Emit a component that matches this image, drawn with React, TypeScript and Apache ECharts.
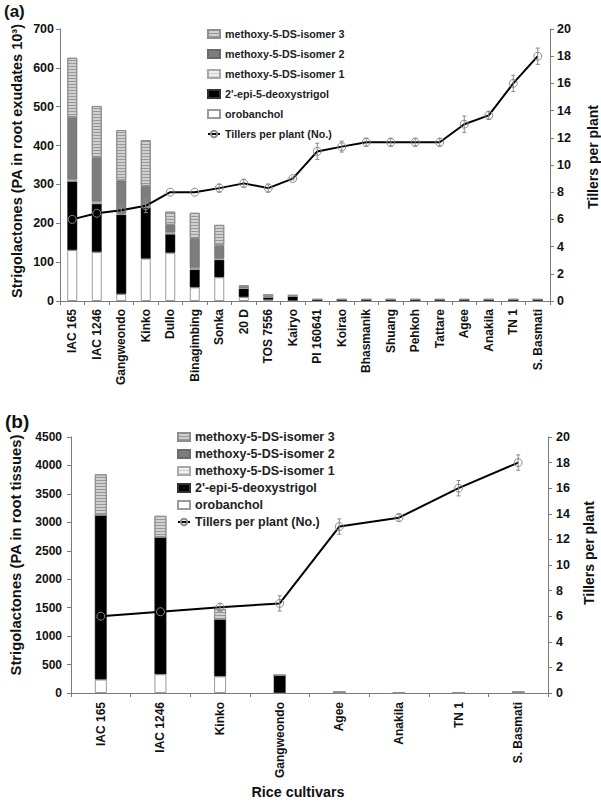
import React, { useEffect, useRef } from "react";
import * as echarts from "echarts";

// ---------- Panel (a): root exudates ----------
const cultivarsA = [
  "IAC 165", "IAC 1246", "Gangweondo", "Kinko", "Dullo", "Binagimbing", "Sonka", "20 D",
  "TOS 7556", "Kairyo", "PI 160641", "Koirao", "Bhasmanik", "Shuang", "Pehkoh", "Tattare",
  "Agee", "Anakila", "TN 1", "S. Basmati",
];
const orobancholA = [131, 126, 18, 109, 124, 35, 61, 10, 3, 1, 0, 0, 0, 0, 0, 0, 0, 0, 0, 0];
const epiDeoxyA = [177, 124, 204, 132, 48, 46, 45, 22, 6, 11, 4, 4, 4, 4, 4, 4, 4, 4, 4, 4];
const isomer1A = [5, 6, 3, 4, 5, 4, 3, 1, 0, 0, 0, 0, 0, 0, 0, 0, 0, 0, 0, 0];
const isomer2A = [160, 114, 85, 51, 19, 77, 34, 3, 3, 2, 0, 0, 0, 0, 0, 0, 0, 0, 0, 0];
const isomer3A = [153, 132, 130, 118, 34, 65, 53, 5, 6, 1, 0, 0, 0, 0, 0, 0, 0, 0, 0, 0];
const tillersA = [6.0, 6.45, 6.67, 7.0, 8.0, 8.0, 8.3, 8.65, 8.3, 9.0, 11.0, 11.35, 11.67, 11.67, 11.67, 11.67, 13.0, 13.65, 16.0, 18.0];
const tillersErrA = [0, 0, 0.3, 0.5, 0, 0, 0.3, 0.3, 0.3, 0.1, 0.6, 0.4, 0.3, 0.3, 0.3, 0.3, 0.6, 0.3, 0.6, 0.6];
const leftTicksA = { min: 0, max: 700, interval: 100 };
const rightTicksA = { min: 0, max: 20, interval: 2 };

// ---------- Panel (b): root tissues ----------
const cultivarsB = ["IAC 165", "IAC 1246", "Kinko", "Gangweondo", "Agee", "Anakila", "TN 1", "S. Basmati"];
const orobancholB = [236, 329, 293, 0, 0, 0, 0, 0];
const epiDeoxyB = [2887, 2407, 1002, 311, 15, 5, 5, 15];
const isomer1B = [0, 0, 0, 0, 0, 0, 0, 0];
const isomer2B = [0, 0, 0, 0, 0, 0, 0, 0];
const isomer3B = [721, 379, 183, 0, 0, 0, 0, 0];
const tillersB = [6.0, 6.35, 6.7, 7.0, 13.0, 13.7, 16.0, 18.0];
const tillersErrB = [0, 0, 0.3, 0.6, 0.6, 0.3, 0.6, 0.6];
const leftTicksB = { min: 0, max: 4500, interval: 500 };
const rightTicksB = { min: 0, max: 20, interval: 2 };

const NAMES = {
  iso3: "methoxy-5-DS-isomer 3",
  iso2: "methoxy-5-DS-isomer 2",
  iso1: "methoxy-5-DS-isomer 1",
  epi: "2'-epi-5-deoxystrigol",
  oro: "orobanchol",
  till: "Tillers per plant (No.)",
};

const FONT = "'Liberation Sans', Arial, Helvetica, sans-serif";
const TXT = "#111";
const AXIS = "#7a7a7a";

const styles: Record<string, any> = {
  oro: { color: "#ffffff", borderColor: "#9a9a9a", borderWidth: 1 },
  epi: { color: "#000000", borderColor: "#333", borderWidth: 0.5 },
  iso1: {
    color: "#efefef", borderColor: "#a8a8a8", borderWidth: 1,
    decal: { symbol: "rect", symbolSize: 1, dashArrayX: [1, 0], dashArrayY: [1, 2], rotation: 0, color: "#cfcfcf" },
  },
  iso2: { color: "#7d7d7d", borderColor: "#6a6a6a", borderWidth: 0.5 },
  iso3: {
    color: "#d0d0d0", borderColor: "#8f8f8f", borderWidth: 1,
    decal: { symbol: "rect", symbolSize: 1, dashArrayX: [1, 0], dashArrayY: [1, 2], rotation: 0, color: "#989898" },
  },
};

function bars(key: string, data: number[], xi: number, yi: number, stack: string, w: number) {
  return {
    type: "bar",
    name: (NAMES as any)[key],
    xAxisIndex: xi,
    yAxisIndex: yi,
    stack,
    barWidth: w,
    data,
    itemStyle: styles[key],
    z: 2,
  };
}

function errorSeries(vals: number[], errs: number[], xi: number, yi: number) {
  return {
    type: "custom",
    xAxisIndex: xi,
    yAxisIndex: yi,
    z: 6,
    silent: true,
    data: vals.map((v, i) => [i, v - errs[i], v + errs[i]]).filter((_, i) => errs[i] > 0),
    encode: { x: 0, y: [1, 2] },
    renderItem: (_p: any, api: any) => {
      const lo = api.coord([api.value(0), api.value(1)]);
      const hi = api.coord([api.value(0), api.value(2)]);
      const w = 2;
      const st = { stroke: "#8a8a8a", lineWidth: 1 };
      return {
        type: "group",
        children: [
          { type: "line", shape: { x1: lo[0], y1: lo[1], x2: hi[0], y2: hi[1] }, style: st },
          { type: "line", shape: { x1: lo[0] - w, y1: lo[1], x2: lo[0] + w, y2: lo[1] }, style: st },
          { type: "line", shape: { x1: hi[0] - w, y1: hi[1], x2: hi[0] + w, y2: hi[1] }, style: st },
        ],
      };
    },
  };
}

function lineSeries(data: number[], xi: number, yi: number) {
  return {
    type: "line",
    name: NAMES.till,
    xAxisIndex: xi,
    yAxisIndex: yi,
    data,
    symbol: "circle",
    symbolSize: 8,
    lineStyle: { color: "#000", width: 2 },
    itemStyle: { color: "rgba(255,255,255,0)", borderColor: "#8a8a8a", borderWidth: 1 },
    z: 5,
  };
}

function catAxis(data: string[], gi: number, fs: number, margin: number) {
  return {
    type: "category",
    gridIndex: gi,
    data,
    boundaryGap: true,
    axisLine: { lineStyle: { color: AXIS, width: 1 } },
    axisTick: { show: true, length: 4, interval: 0, lineStyle: { color: AXIS } },
    axisLabel: {
      interval: 0, rotate: 90, margin,
      fontSize: fs, fontWeight: "bold", fontFamily: FONT, color: TXT,
    },
  };
}

function valAxis(gi: number, pos: string, t: any, fs: number, margin: number) {
  return {
    type: "value",
    gridIndex: gi,
    position: pos,
    min: t.min,
    max: t.max,
    interval: t.interval,
    splitLine: { show: false },
    axisLine: { show: true, lineStyle: { color: AXIS, width: 1 } },
    axisTick: { show: true, length: 4, lineStyle: { color: AXIS } },
    axisLabel: {
      margin, fontSize: fs, fontWeight: "bold", fontFamily: FONT, color: TXT,
      formatter: (v: number) => String(v),
    },
  };
}

const legendData = [
  { name: NAMES.iso3, icon: "rect" },
  { name: NAMES.iso2, icon: "rect" },
  { name: NAMES.iso1, icon: "rect" },
  { name: NAMES.epi, icon: "rect" },
  { name: NAMES.oro, icon: "rect" },
  { name: NAMES.till },
];

function rotText(text: string, x: number, y: number, fs: number) {
  return {
    type: "text",
    x, y,
    rotation: Math.PI / 2,
    style: {
      text, x: 0, y: 0, align: "center", verticalAlign: "middle",
      font: `bold ${fs}px ${FONT}`, fill: TXT,
    },
  };
}

export default function App() {
  const ref = useRef<HTMLDivElement>(null);
  useEffect(() => {
    document.body.style.margin = "0";
    if (!ref.current) return;
    const chart = echarts.init(ref.current, undefined, { renderer: "svg" });
    chart.setOption({
      animation: false,
      backgroundColor: "#ffffff",
      grid: [
        { left: 60, right: 51, top: 29, height: 272 },
        { left: 71, right: 53, top: 437, height: 256 },
      ],
      xAxis: [catAxis(cultivarsA, 0, 12, 8), catAxis(cultivarsB, 1, 12, 9)],
      yAxis: [
        valAxis(0, "left", leftTicksA, 12.5, 6),
        valAxis(0, "right", rightTicksA, 12.5, 7),
        valAxis(1, "left", leftTicksB, 12, 9),
        valAxis(1, "right", rightTicksB, 12.5, 8),
      ],
      legend: [
        {
          left: 207, top: 27, padding: 0, orient: "vertical", itemWidth: 12, itemHeight: 8, itemGap: 6,
          selectedMode: false, data: legendData,
          textStyle: { fontSize: 10.7, fontWeight: "bold", fontFamily: FONT, color: "#222", lineHeight: 14 },
        },
        {
          left: 177, top: 430, padding: 0, orient: "vertical", itemWidth: 12, itemHeight: 8, itemGap: 3,
          selectedMode: false, data: legendData,
          textStyle: { fontSize: 12.5, fontWeight: "bold", fontFamily: FONT, color: "#222", lineHeight: 14 },
        },
      ],
      series: [
        bars("oro", orobancholA, 0, 0, "a", 10),
        bars("epi", epiDeoxyA, 0, 0, "a", 10),
        bars("iso1", isomer1A, 0, 0, "a", 10),
        bars("iso2", isomer2A, 0, 0, "a", 10),
        bars("iso3", isomer3A, 0, 0, "a", 10),
        lineSeries(tillersA, 0, 1),
        errorSeries(tillersA, tillersErrA, 0, 1),
        bars("oro", orobancholB, 1, 2, "b", 12),
        bars("epi", epiDeoxyB, 1, 2, "b", 12),
        bars("iso1", isomer1B, 1, 2, "b", 12),
        bars("iso2", isomer2B, 1, 2, "b", 12),
        bars("iso3", isomer3B, 1, 2, "b", 12),
        lineSeries(tillersB, 1, 3),
        errorSeries(tillersB, tillersErrB, 1, 3),
      ],
      graphic: [
        { type: "text", x: 4, y: 11, style: { text: "(a)", x: 0, y: 0, verticalAlign: "middle", font: `bold 17px ${FONT}`, fill: TXT } },
        { type: "text", x: 5, y: 421, style: { text: "(b)", x: 0, y: 0, verticalAlign: "middle", font: `bold 19px ${FONT}`, fill: TXT } },
        rotText("Strigolactones (PA in root exudates 10³)", 17, 161, 14.5),
        rotText("Tillers per plant", 593, 157, 14),
        rotText("Strigolactones (PA in root tissues)", 16, 555, 14.8),
        rotText("Tillers per plant", 589, 553, 14),
        {
          type: "text", x: 298, y: 792,
          style: { text: "Rice cultivars", x: 0, y: 0, align: "center", verticalAlign: "middle", font: `bold 14.3px ${FONT}`, fill: TXT },
        },
      ],
    });
    return () => chart.dispose();
  }, []);
  return <div ref={ref} style={{ width: 601, height: 802 }} />;
}
